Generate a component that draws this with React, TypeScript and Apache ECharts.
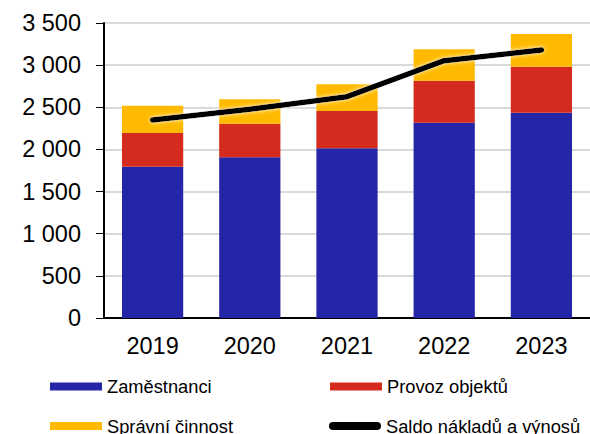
import React, { useEffect, useRef } from "react";
import * as echarts from "echarts";

const years = ["2019", "2020", "2021", "2022", "2023"];
const zamestnanci = [1795, 1906, 2013, 2317, 2436];
const provozObjektu = [400, 399, 443, 499, 546];
const spravniCinnost = [324, 290, 316, 372, 387];
const saldo = [2349, 2476, 2626, 3053, 3180];

const FONT = "Liberation Sans, Arial, sans-serif";

export default function App() {
  const ref = useRef<HTMLDivElement>(null);
  useEffect(() => {
    if (!ref.current) return;
    const chart = echarts.init(ref.current, undefined, { renderer: "svg" });
    const legendBase = {
      orient: "horizontal",
      itemWidth: 52,
      itemHeight: 8,
      padding: 0,
      textStyle: {
        fontFamily: FONT,
        fontSize: 18.3,
        lineHeight: 20,
        color: "#000",
        padding: [0, 0, 0, 0],
      },
    };
    chart.setOption({
      animation: false,
      textStyle: { fontFamily: FONT },
      grid: { left: 104, right: 0, top: 23, bottom: 116, containLabel: false },
      legend: [
        { ...legendBase, left: 50, top: 376.5, data: [{ name: "Zaměstnanci", icon: "rect" }] },
        { ...legendBase, left: 330, top: 376.5, data: [{ name: "Provoz objektů", icon: "rect" }] },
        { ...legendBase, left: 50, top: 416, data: [{ name: "Správní činnost", icon: "rect" }] },
        {
          ...legendBase,
          left: 329,
          top: 416,
          data: [
            {
              name: "Saldo nákladů a výnosů",
              icon: "path://M4,0 L48,0 A4,4 0 0 1 48,8 L4,8 A4,4 0 0 1 4,0 Z",
            },
          ],
        },
      ],
      xAxis: {
        type: "category",
        data: years,
        axisLine: { show: true, lineStyle: { color: "#000", width: 2 } },
        axisTick: { show: false },
        axisLabel: { fontSize: 23.5, color: "#000", margin: 16, fontFamily: FONT },
      },
      yAxis: {
        type: "value",
        min: 0,
        max: 3500,
        interval: 500,
        axisLine: { show: true, lineStyle: { color: "#000", width: 2 } },
        axisTick: { show: true, length: 8, lineStyle: { color: "#000", width: 1 } },
        axisLabel: {
          fontSize: 23.5,
          color: "#000",
          margin: 23,
          fontFamily: FONT,
          formatter: (v: number) => String(v).replace(/\B(?=(\d{3})+(?!\d))/g, " "),
        },
        splitLine: { show: true, lineStyle: { color: "#D9D9D9", width: 2 } },
      },
      series: [
        {
          name: "Zaměstnanci",
          type: "bar",
          stack: "a",
          barWidth: "63%",
          data: zamestnanci,
          itemStyle: { color: "#2525A7" },
        },
        {
          name: "Provoz objektů",
          type: "bar",
          stack: "a",
          data: provozObjektu,
          itemStyle: { color: "#D52B1E" },
        },
        {
          name: "Správní činnost",
          type: "bar",
          stack: "a",
          data: spravniCinnost,
          itemStyle: { color: "#FFBA00" },
        },
        {
          name: "Saldo nákladů a výnosů",
          type: "line",
          data: saldo,
          symbol: "none",
          itemStyle: { color: "#000" },
          lineStyle: {
            color: "#000",
            width: 5.5,
            cap: "round",
            join: "round",
            shadowColor: "rgba(255,255,255,0.9)",
            shadowBlur: 4,
          },
        },
      ],
    });
    return () => chart.dispose();
  }, []);
  return <div ref={ref} style={{ width: 590, height: 434, position: "absolute", left: 0, top: 0 }} />;
}
